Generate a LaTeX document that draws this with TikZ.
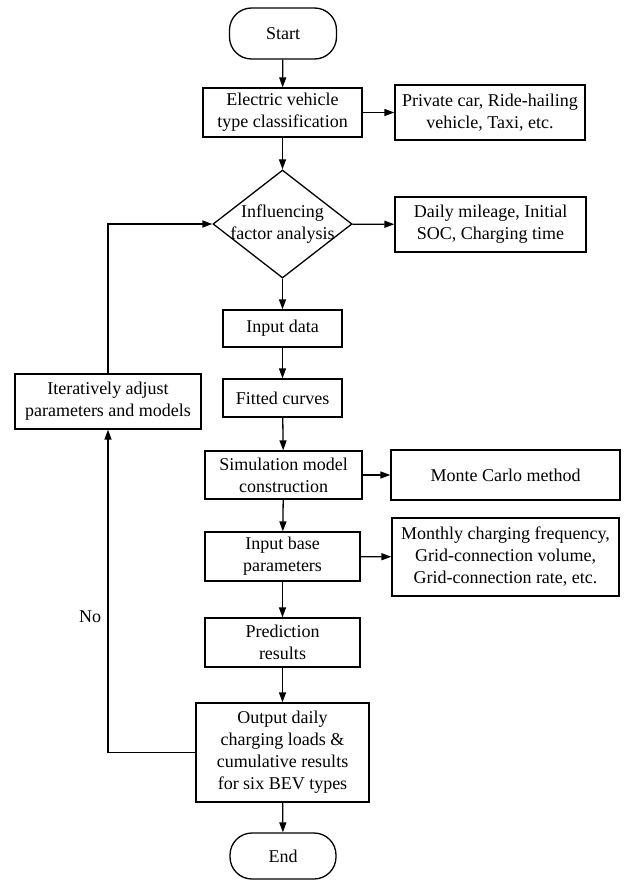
\documentclass[tikz,border=0pt]{standalone}
\usepackage{fontspec}
\setmainfont{Liberation Serif}
\usetikzlibrary{shapes.geometric,arrows.meta}

\begin{document}
\begin{tikzpicture}[x=1pt,y=-1pt,font=\fontsize{18}{22}\selectfont,line width=1.3pt,
  box/.style={draw,align=center,inner sep=0pt},
  term/.style={box,rounded corners=22pt},
  arr/.style={-{Triangle[length=10pt,width=7pt]}}]
  \useasboundingbox (0,0) rectangle (627,881);
  % main column
  \node[term,minimum width=107pt,minimum height=51pt] (start) at (283,33.5) {Start};
  \node[box,minimum width=159pt,minimum height=49pt] (evtype) at (282.5,112.5) {Electric vehicle\\type classification};
  \node[draw,diamond,minimum width=139pt,minimum height=108pt,inner sep=0pt,
    label={[align=center]center:Influencing\\factor analysis}] (factor) at (282.5,224) {};
  \node[box,minimum width=119pt,minimum height=37pt] (indata) at (282.5,328.5) {Input data};
  \node[box,minimum width=119pt,minimum height=38pt] (fitted) at (282.5,398) {Fitted curves};
  \node[box,minimum width=157pt,minimum height=48pt] (simmodel) at (283.5,475) {Simulation model\\construction};
  \node[box,minimum width=155pt,minimum height=49pt] (baseparam) at (282.5,556.5) {Input base\\parameters};
  \node[box,minimum width=155pt,minimum height=49pt] (predict) at (282.5,642.5) {Prediction\\results};
  \node[box,minimum width=173pt,minimum height=99pt] (output) at (282.5,752.5) {Output daily\\charging loads \&\\cumulative results\\for six BEV types};
  \node[term,minimum width=106pt,minimum height=46pt] (end) at (283,856) {End};
  % side boxes
  \node[box,minimum width=190pt,minimum height=55pt] (vtypes) at (490,112.5) {Private car, Ride-hailing\\vehicle, Taxi, etc.};
  \node[box,minimum width=191pt,minimum height=55pt] (factors) at (490.5,224.5) {Daily mileage, Initial\\SOC, Charging time};
  \node[box,minimum width=229pt,minimum height=50pt] (montecarlo) at (505.5,475) {Monte Carlo method};
  \node[box,minimum width=227pt,minimum height=78pt] (params) at (505.5,557) {Monthly charging frequency,\\Grid-connection volume,\\Grid-connection rate, etc.};
  \node[box,minimum width=186pt,minimum height=55pt] (adjust) at (108,401.5) {Iteratively adjust\\parameters and models};

  \draw[arr] (start) -- (evtype);
  \draw[arr] (evtype) -- (factor);
  \draw[arr] (evtype) -- (vtypes);
  \draw[arr] (factor) -- (factors);
  \draw[arr] (factor) -- (indata);
  \draw[arr] (indata) -- (fitted);
  \draw[arr] (fitted) -- (simmodel);
  \draw[arr] (simmodel) -- (montecarlo);
  \draw[arr] (simmodel) -- (baseparam);
  \draw[arr] (baseparam) -- (params);
  \draw[arr] (baseparam) -- (predict);
  \draw[arr] (predict) -- (output);
  \draw[arr] (output) -- (end);
  % feedback loop
  \draw[arr] (output.west) -| node[pos=0.71,left=3pt] (no) {No} (adjust.south);
  \draw[arr] (adjust.north) |- (factor.west);
\end{tikzpicture}
\end{document}
